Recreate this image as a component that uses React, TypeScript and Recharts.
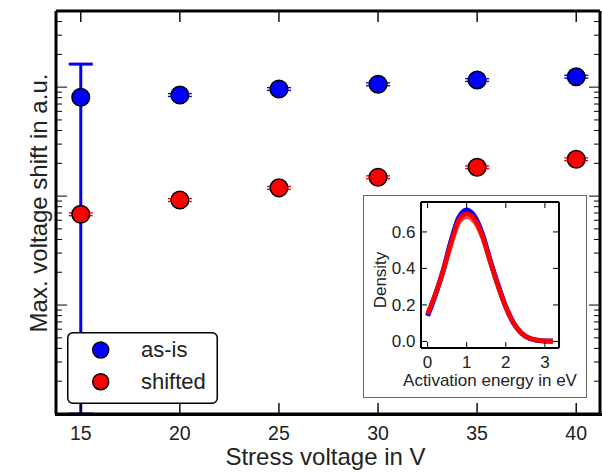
import { ScatterChart, Scatter, XAxis, YAxis, ErrorBar, LineChart, Line } from 'recharts'

const FONT = '"Liberation Sans", Arial, sans-serif'
const BLUE = '#0000ff'
const RED = '#ff0000'
const TEXT = '#222222'

// main plot: max. voltage shift vs stress voltage (log y)
const voltages = [15, 20, 25, 30, 35, 40]
const asIsShift = [80.7, 84.7, 96.2, 106.2, 116.3, 124.7]
// small spread per point (the 15 V point only has the wide range below)
const asIsErr = [null, 2.6, 2.9, 3.2, 3.5, 3.7]
const asIsRangeLow = [80.6, null, null, null, null, null]
const asIsRangeHigh = [82, null, null, null, null, null]
const shiftedShift = [6.81, 9.2, 11.9, 14.9, 18.4, 21.8]
const shiftedErr = [0.2, 0.28, 0.36, 0.45, 0.55, 0.65]

const seriesNames = ['as-is', 'shifted']
const seriesColors = [BLUE, RED]

const xTicks = [15, 20, 25, 30, 35, 40]
const yMajor = [1, 10, 100]
const yTicks = [
  0.2, 0.3, 0.4, 0.5, 0.6, 0.7, 0.8, 0.9,
  1, 2, 3, 4, 5, 6, 7, 8, 9,
  10, 20, 30, 40, 50, 60, 70, 80, 90,
  100, 200, 300, 400,
]

// inset: activation energy densities
const energy = [0, 0.2, 0.4, 0.6, 0.8, 1.0, 1.2, 1.4, 1.6, 1.8, 2.0, 2.2, 2.4, 2.6, 2.8, 3.0, 3.2]
const densityBlue = [0.14, 0.255, 0.39, 0.55, 0.68, 0.72, 0.685, 0.59, 0.445, 0.31, 0.19, 0.1, 0.045, 0.017, 0.006, 0.002, 0.001]
const densityRedA = [0.15, 0.258, 0.388, 0.54, 0.665, 0.7, 0.67, 0.58, 0.44, 0.305, 0.188, 0.1, 0.046, 0.018, 0.007, 0.003, 0.002]
const densityRedB = [0.152, 0.26, 0.385, 0.53, 0.65, 0.683, 0.655, 0.57, 0.435, 0.303, 0.188, 0.101, 0.047, 0.019, 0.008, 0.003, 0.002]
const insetXTicks = [0, 1, 2, 3]
const insetYTicks = [0, 0.2, 0.4, 0.6]

const asIsData = voltages.map((v, i) => ({
  x: v,
  y: asIsShift[i],
  err: asIsErr[i] == null ? null : [asIsErr[i], asIsErr[i]],
  range: asIsRangeLow[i] == null ? null : [asIsRangeLow[i], asIsRangeHigh[i]],
}))
const shiftedData = voltages.map((v, i) => ({ x: v, y: shiftedShift[i], err: [shiftedErr[i], shiftedErr[i]] }))
const insetData = energy.map((e, i) => ({ e, blue: densityBlue[i], redA: densityRedA[i], redB: densityRedB[i] }))

const makeDot = (fill: string) => (p: any) =>
  <circle cx={p.cx} cy={p.cy} r={8.8} fill={fill} stroke="#000" strokeWidth={1.5} />

function BottomTick({ x, y, payload }: any) {
  return (
    <g>
      <line x1={x} x2={x} y1={y} y2={y - 11} stroke="#000" strokeWidth={1.4} />
      <text x={x} y={y + 25.5} textAnchor="middle" fontSize={19.5} fontFamily={FONT} fill={TEXT}>
        {payload.value}
      </text>
    </g>
  )
}

function TopTick({ x, y }: any) {
  return <line x1={x} x2={x} y1={y} y2={y + 11} stroke="#000" strokeWidth={1.4} />
}

function LeftTick({ x, y, payload }: any) {
  const len = yMajor.includes(payload.value) ? 11 : 6
  return <line x1={x} x2={x + len} y1={y} y2={y} stroke="#000" strokeWidth={1} />
}

function RightTick({ x, y, payload }: any) {
  const len = yMajor.includes(payload.value) ? 11 : 6
  return <line x1={x} x2={x - len} y1={y} y2={y} stroke="#000" strokeWidth={1} />
}

function InsetBottomTick({ x, y, payload }: any) {
  return (
    <g>
      <line x1={x} x2={x} y1={y} y2={y - 6} stroke="#000" strokeWidth={1} />
      <text x={x} y={y + 20} textAnchor="middle" fontSize={17} fontFamily={FONT} fill={TEXT}>
        {payload.value}
      </text>
    </g>
  )
}

function InsetTopTick({ x, y }: any) {
  return <line x1={x} x2={x} y1={y} y2={y + 6} stroke="#000" strokeWidth={1} />
}

function InsetLeftTick({ x, y, payload }: any) {
  return (
    <g>
      <line x1={x} x2={x + 6} y1={y} y2={y} stroke="#000" strokeWidth={1} />
      <text x={x - 5.5} y={y + 6} textAnchor="end" fontSize={17} fontFamily={FONT} fill={TEXT}>
        {payload.value.toFixed(1)}
      </text>
    </g>
  )
}

function InsetRightTick({ x, y }: any) {
  return <line x1={x} x2={x - 6} y1={y} y2={y} stroke="#000" strokeWidth={1} />
}

const axisLine = { stroke: '#000', strokeWidth: 3 }
const insetAxisLine = { stroke: '#000', strokeWidth: 2 }

function Inset() {
  return (
    <div style={{ position: 'absolute', left: 363, top: 195, width: 224, height: 203 }}>
      <div
        style={{
          position: 'absolute',
          inset: 0,
          background: '#fff',
          border: '1.5px solid #666',
          boxSizing: 'border-box',
        }}
      />
      <div style={{ position: 'absolute', left: 0, top: 0 }}>
        <LineChart width={224} height={203} data={insetData} margin={{ top: 6, right: 27, bottom: 49, left: 57 }}>
          <XAxis
            dataKey="e"
            type="number"
            domain={[-0.168, 3.36]}
            allowDataOverflow
            ticks={insetXTicks}
            interval={0}
            height={1}
            tickSize={0}
            tickMargin={0}
            tickLine={false}
            axisLine={insetAxisLine}
            tick={InsetBottomTick}
            label={({ viewBox }: any) => (
              <text
                x={viewBox.x + viewBox.width / 2}
                y={viewBox.y + 38}
                textAnchor="middle"
                fontSize={17}
                fontFamily={FONT}
                fill={TEXT}
              >
                Activation energy in eV
              </text>
            )}
          />
          <XAxis
            xAxisId="top"
            orientation="top"
            dataKey="e"
            type="number"
            domain={[-0.168, 3.36]}
            allowDataOverflow
            ticks={insetXTicks}
            interval={0}
            height={1}
            tickSize={0}
            tickMargin={0}
            tickLine={false}
            axisLine={insetAxisLine}
            tick={InsetTopTick}
          />
          <YAxis
            type="number"
            domain={[-0.036, 0.764]}
            allowDataOverflow
            ticks={insetYTicks}
            interval={0}
            width={1}
            tickSize={0}
            tickMargin={0}
            tickLine={false}
            axisLine={insetAxisLine}
            tick={InsetLeftTick}
            label={({ viewBox }: any) => {
              const lx = viewBox.x + viewBox.width - 35
              const ly = viewBox.y + viewBox.height / 2 + 5
              return (
                <text
                  x={lx}
                  y={ly}
                  transform={`rotate(-90, ${lx}, ${ly})`}
                  textAnchor="middle"
                  fontSize={17}
                  fontFamily={FONT}
                  fill={TEXT}
                >
                  Density
                </text>
              )
            }}
          />
          <YAxis
            yAxisId="right"
            orientation="right"
            type="number"
            domain={[-0.036, 0.764]}
            allowDataOverflow
            ticks={insetYTicks}
            interval={0}
            width={1}
            tickSize={0}
            tickMargin={0}
            tickLine={false}
            axisLine={insetAxisLine}
            tick={InsetRightTick}
          />
          <Line type="monotone" dataKey="blue" stroke={BLUE} strokeWidth={5} dot={false} isAnimationActive={false} />
          <Line type="monotone" dataKey="redB" stroke={RED} strokeOpacity={0.7} strokeWidth={4.5} dot={false} isAnimationActive={false} />
          <Line type="monotone" dataKey="redA" stroke={RED} strokeWidth={4.5} dot={false} isAnimationActive={false} />
        </LineChart>
      </div>
    </div>
  )
}

function LegendBox() {
  return (
    <svg style={{ position: 'absolute', left: 67, top: 332 }} width={151} height={72}>
      <rect x={0.75} y={0.75} width={149.5} height={70.5} rx={5} fill="#fff" stroke="#000" strokeWidth={1.5} />
      {seriesNames.map((name, i) => (
        <g key={name}>
          <circle cx={33.7} cy={18 + i * 31.7} r={8} fill={seriesColors[i]} stroke="#000" strokeWidth={1.5} />
          <text x={74} y={24.7 + i * 32.3} fontSize={22} fontFamily={FONT} fill={TEXT}>
            {name}
          </text>
        </g>
      ))}
    </svg>
  )
}

export default function App() {
  return (
    <div style={{ position: 'absolute', left: 0, top: 0, width: 602, height: 475, background: '#fff', fontFamily: FONT }}>
      <ScatterChart width={602} height={475} margin={{ top: 10, right: 1, bottom: 60, left: 55 }}>
        <XAxis
          dataKey="x"
          type="number"
          domain={[13.75, 41.2]}
          allowDataOverflow
          ticks={xTicks}
          interval={0}
          height={1}
          tickSize={0}
          tickMargin={0}
          tickLine={false}
          axisLine={axisLine}
          tick={BottomTick}
          label={({ viewBox }: any) => (
            <text x={325.5} y={viewBox.y + 50.5} textAnchor="middle" fontSize={24} fontFamily={FONT} fill={TEXT}>
              Stress voltage in V
            </text>
          )}
        />
        <XAxis
          xAxisId="top"
          orientation="top"
          dataKey="x"
          type="number"
          domain={[13.75, 41.2]}
          allowDataOverflow
          ticks={xTicks}
          interval={0}
          height={1}
          tickSize={0}
          tickMargin={0}
          tickLine={false}
          axisLine={axisLine}
          tick={TopTick}
        />
        <YAxis
          dataKey="y"
          type="number"
          scale="log"
          domain={[0.1, 500]}
          allowDataOverflow
          ticks={yTicks}
          interval={0}
          width={1}
          tickSize={0}
          tickMargin={0}
          tickLine={false}
          axisLine={axisLine}
          tick={LeftTick}
          label={({ viewBox }: any) => {
            const lx = viewBox.x + viewBox.width - 9.5
            const ly = 203
            return (
              <text
                x={lx}
                y={ly}
                transform={`rotate(-90, ${lx}, ${ly})`}
                textAnchor="middle"
                fontSize={24}
                fontFamily={FONT}
                fill={TEXT}
              >
                Max. voltage shift in a.u.
              </text>
            )
          }}
        />
        <YAxis
          yAxisId="right"
          orientation="right"
          dataKey="y"
          type="number"
          scale="log"
          domain={[0.1, 500]}
          allowDataOverflow
          ticks={yTicks}
          interval={0}
          width={1}
          tickSize={0}
          tickMargin={0}
          tickLine={false}
          axisLine={axisLine}
          tick={RightTick}
        />
        <Scatter name="as-is" data={asIsData} fill={BLUE} shape={makeDot(BLUE)} isAnimationActive={false}>
          <ErrorBar dataKey="range" direction="y" width={12} stroke={BLUE} strokeWidth={3} />
          <ErrorBar dataKey="err" direction="y" width={12} stroke={BLUE} strokeWidth={1.4} />
        </Scatter>
        <Scatter name="shifted" data={shiftedData} fill={RED} shape={makeDot(RED)} isAnimationActive={false}>
          <ErrorBar dataKey="err" direction="y" width={12} stroke={RED} strokeWidth={1.4} />
        </Scatter>
      </ScatterChart>
      {/* bottom frame edge redrawn on top: the 15 V range runs off the plot, so its lower cap must not show */}
      <div style={{ position: 'absolute', left: 54.5, top: 412.5, width: 547, height: 3, background: '#000' }} />
      <LegendBox />
      <Inset />
    </div>
  )
}
